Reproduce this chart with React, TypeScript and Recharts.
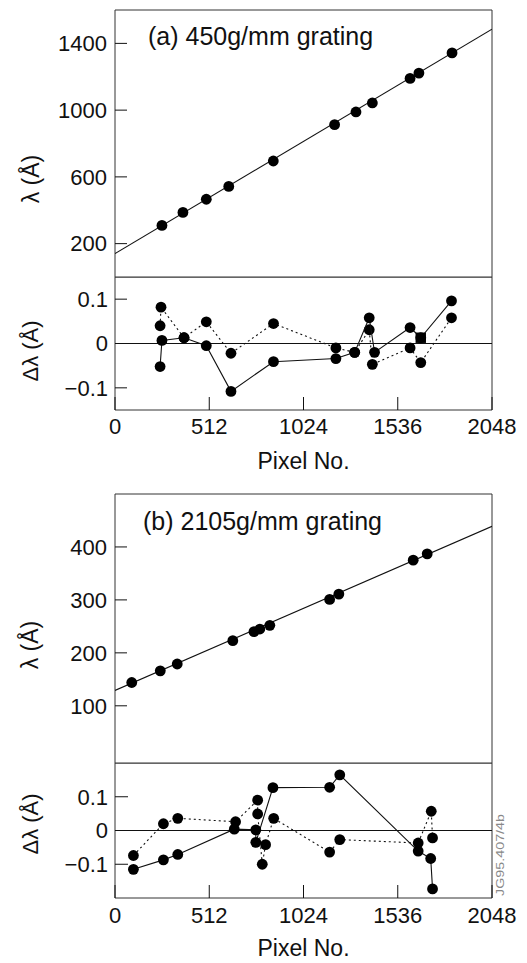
import React from 'react';
import { ComposedChart, Scatter, XAxis, YAxis, ReferenceArea, ReferenceLine } from 'recharts';

// ---------- data ----------
const pixelTicks = [0, 512, 1024, 1536, 2048];
const lambdaTicksA = [200, 600, 1000, 1400];
const lambdaTicksB = [100, 200, 300, 400];
const residTicks = [-0.1, 0, 0.1];

// (a) 450 g/mm grating
const pixelsA = [255, 369, 496, 618, 860, 1193, 1309, 1398, 1603, 1651, 1831];
const lambdaA = [309, 387, 466, 543, 695, 913, 989, 1043, 1190, 1222, 1343];
const fitPixelsA = [0, 2048];
const fitLambdaA = [140, 1485];

const solidPixA = [245, 255, 375, 496, 630, 861, 1200, 1302, 1381, 1410, 1603, 1661, 1828];
const solidResA = [-0.052, 0.007, 0.013, -0.005, -0.108, -0.041, -0.034, -0.02, 0.058, -0.02, 0.036, 0.013, 0.096];
const dottedPixA = [245, 250, 375, 496, 630, 861, 1200, 1302, 1381, 1398, 1603, 1661, 1828];
const dottedResA = [0.04, 0.082, 0.013, 0.049, -0.022, 0.045, -0.01, -0.02, 0.031, -0.047, -0.01, -0.043, 0.058];
const squarePixA = [1661];
const squareResA = [0.013];

// (b) 2105 g/mm grating
const pixelsB = [91, 246, 338, 640, 755, 787, 841, 1166, 1216, 1620, 1696];
const lambdaB = [144, 166, 179, 223, 240, 245, 252, 301, 311, 375, 387];
const fitPixelsB = [0, 2048];
const fitLambdaB = [129, 439];

const solidPixB = [100, 263, 341, 648, 765, 765, 858, 1166, 1221, 1647, 1715, 1725];
const solidResB = [-0.115, -0.087, -0.071, 0.004, 0.002, -0.035, 0.127, 0.128, 0.165, -0.061, -0.083, -0.173];
const dottedPixB = [100, 263, 341, 655, 775, 775, 800, 818, 862, 1166, 1221, 1647, 1718, 1725];
const dottedResB = [-0.074, 0.02, 0.036, 0.026, 0.09, 0.049, -0.1, -0.042, 0.036, -0.064, -0.027, -0.037, 0.057, -0.022];

// ---------- helpers ----------
const FONT = '"Liberation Sans", Arial, Helvetica, sans-serif';
const INK = '#111';
const W = 527;

const zip = (xs: number[], ys: number[]) => xs.map((x, i) => ({ x, y: ys[i] }));

const Dot = (p: any) => <circle cx={p.cx} cy={p.cy} r={5.4} fill="#000" />;
const NoDot = () => <g />;
const Square = (p: any) => <rect x={p.cx - 5.2} y={p.cy - 5.2} width={10.4} height={10.4} fill="#000" />;

const tickStyle = { fontSize: 22, fill: INK, fontFamily: FONT };
const fmtRes = (v: number) => (v === 0 ? '0' : v < 0 ? '\u2212' + Math.abs(v) : String(v));

const T = (props: any) => {
  const { x, y, rotate = 0, size = 22, anchor = 'start', children, fill = INK, central = false, textLength } = props;
  return (
    <text
      x={0}
      y={0}
      transform={`translate(${x},${y}) rotate(${rotate})`}
      textAnchor={anchor}
      dominantBaseline={central ? 'central' : 'auto'}
      fontSize={size}
      fontFamily={FONT}
      fill={fill}
      textLength={textLength}
      lengthAdjust={textLength ? 'spacingAndGlyphs' : undefined}
    >
      {children}
    </text>
  );
};

const lineSolid = { stroke: INK, strokeWidth: 1.1 };
const lineDotted = { stroke: INK, strokeWidth: 1.1, strokeDasharray: '2 3' };

const boxProps = { fill: 'none', stroke: '#333', strokeWidth: 1, fillOpacity: 0 };

export default function App() {
  return (
    <div style={{ position: 'absolute', left: 0, top: 0, width: W, height: 963, background: '#fff' }}>
      {/* (a) main */}
      <div style={{ position: 'absolute', left: 0, top: 0 }}>
        <ComposedChart width={W} height={280} margin={{ top: 10, right: 35, bottom: 3, left: 55 }}>
          <XAxis dataKey="x" type="number" domain={[0, 2048]} hide allowDataOverflow />
          <YAxis
            dataKey="y"
            type="number"
            domain={[0, 1600]}
            ticks={lambdaTicksA}
            interval={0}
            width={60}
            axisLine={false}
            tickSize={-12}
            tickMargin={20}
            tick={tickStyle}
            tickLine={{ stroke: INK }}
            allowDataOverflow
          />
          <ReferenceArea
            x1={0}
            x2={2048}
            y1={0}
            y2={1600}
            {...boxProps}
            label={{
              content: (p: any) => {
                const v = p.viewBox;
                return (
                  <g>
                    <T x={v.x + 33} y={v.y + 35} size={25}>(a) 450g/mm grating</T>
                    <T x={v.x - 84} y={v.y + 169} rotate={-90} anchor="middle" central size={23}>λ (Å)</T>
                  </g>
                );
              },
            }}
          />
          <Scatter data={zip(fitPixelsA, fitLambdaA)} line={lineSolid} lineType="joint" shape={NoDot} isAnimationActive={false} />
          <Scatter data={zip(pixelsA, lambdaA)} shape={Dot} isAnimationActive={false} />
        </ComposedChart>
      </div>

      {/* (a) residuals */}
      <div style={{ position: 'absolute', left: 0, top: 277 }}>
        <ComposedChart width={W} height={200} margin={{ top: 0, right: 35, bottom: 17, left: 55 }}>
          <XAxis
            dataKey="x"
            type="number"
            domain={[0, 2048]}
            ticks={pixelTicks}
            interval={0}
            height={50}
            axisLine={false}
            tickSize={-13}
            tickMargin={21}
            tick={tickStyle}
            tickLine={{ stroke: INK }}
            allowDataOverflow
          />
          <YAxis
            dataKey="y"
            type="number"
            domain={[-0.15, 0.15]}
            ticks={residTicks}
            interval={0}
            width={60}
            axisLine={false}
            tickSize={-12}
            tickMargin={19}
            tick={tickStyle}
            tickLine={{ stroke: INK }}
            tickFormatter={fmtRes}
            allowDataOverflow
          />
          <ReferenceArea
            x1={0}
            x2={2048}
            y1={-0.15}
            y2={0.15}
            {...boxProps}
            label={{
              content: (p: any) => {
                const v = p.viewBox;
                return (
                  <g>
                    <T x={v.x - 85} y={v.y + 74} rotate={-90} anchor="middle" central size={22}>Δλ (Å)</T>
                    <T x={v.x + v.width / 2} y={v.y + 192} anchor="middle" size={23}>Pixel No.</T>
                  </g>
                );
              },
            }}
          />
          <ReferenceLine y={0} stroke={INK} strokeWidth={1} />
          <Scatter data={zip(dottedPixA, dottedResA)} line={lineDotted} lineType="joint" shape={Dot} isAnimationActive={false} />
          <Scatter data={zip(solidPixA, solidResA)} line={lineSolid} lineType="joint" shape={Dot} isAnimationActive={false} />
          <Scatter data={zip(squarePixA, squareResA)} shape={Square} isAnimationActive={false} />
        </ComposedChart>
      </div>

      {/* (b) main */}
      <div style={{ position: 'absolute', left: 0, top: 480 }}>
        <ComposedChart width={W} height={290} margin={{ top: 14, right: 35, bottom: 7, left: 55 }}>
          <XAxis dataKey="x" type="number" domain={[0, 2048]} hide allowDataOverflow />
          <YAxis
            dataKey="y"
            type="number"
            domain={[-8, 500]}
            ticks={lambdaTicksB}
            interval={0}
            width={60}
            axisLine={false}
            tickSize={-12}
            tickMargin={20}
            tick={tickStyle}
            tickLine={{ stroke: INK }}
            allowDataOverflow
          />
          <ReferenceArea
            x1={0}
            x2={2048}
            y1={-8}
            y2={500}
            {...boxProps}
            label={{
              content: (p: any) => {
                const v = p.viewBox;
                return (
                  <g>
                    <T x={v.x + 28} y={v.y + 36} size={25}>(b) 2105g/mm grating</T>
                    <T x={v.x - 85} y={v.y + 151} rotate={-90} anchor="middle" central size={23}>λ (Å)</T>
                  </g>
                );
              },
            }}
          />
          <Scatter data={zip(fitPixelsB, fitLambdaB)} line={lineSolid} lineType="joint" shape={NoDot} isAnimationActive={false} />
          <Scatter data={zip(pixelsB, lambdaB)} shape={Dot} isAnimationActive={false} />
        </ComposedChart>
      </div>

      {/* (b) residuals */}
      <div style={{ position: 'absolute', left: 0, top: 763 }}>
        <ComposedChart width={W} height={200} margin={{ top: 0, right: 35, bottom: 15, left: 55 }}>
          <XAxis
            dataKey="x"
            type="number"
            domain={[0, 2048]}
            ticks={pixelTicks}
            interval={0}
            height={50}
            axisLine={false}
            tickSize={-13}
            tickMargin={22}
            tick={tickStyle}
            tickLine={{ stroke: INK }}
            allowDataOverflow
          />
          <YAxis
            dataKey="y"
            type="number"
            domain={[-0.2, 0.2]}
            ticks={residTicks}
            interval={0}
            width={60}
            axisLine={false}
            tickSize={-13}
            tickMargin={20}
            tick={tickStyle}
            tickLine={{ stroke: INK }}
            tickFormatter={fmtRes}
            allowDataOverflow
          />
          <ReferenceArea
            x1={0}
            x2={2048}
            y1={-0.2}
            y2={0.2}
            {...boxProps}
            label={{
              content: (p: any) => {
                const v = p.viewBox;
                return (
                  <g>
                    <T x={v.x - 85} y={v.y + 61} rotate={-90} anchor="middle" central size={22}>Δλ (Å)</T>
                    <T x={v.x + v.width / 2} y={v.y + 193} anchor="middle" size={23}>Pixel No.</T>
                    <T x={v.x + v.width + 8} y={v.y + 92} rotate={-90} anchor="middle" central size={10} fill="#888" textLength={82}>JG95.407/4b</T>
                  </g>
                );
              },
            }}
          />
          <ReferenceLine y={0} stroke={INK} strokeWidth={1} />
          <Scatter data={zip(dottedPixB, dottedResB)} line={lineDotted} lineType="joint" shape={Dot} isAnimationActive={false} />
          <Scatter data={zip(solidPixB, solidResB)} line={lineSolid} lineType="joint" shape={Dot} isAnimationActive={false} />
        </ComposedChart>
      </div>
    </div>
  );
}
